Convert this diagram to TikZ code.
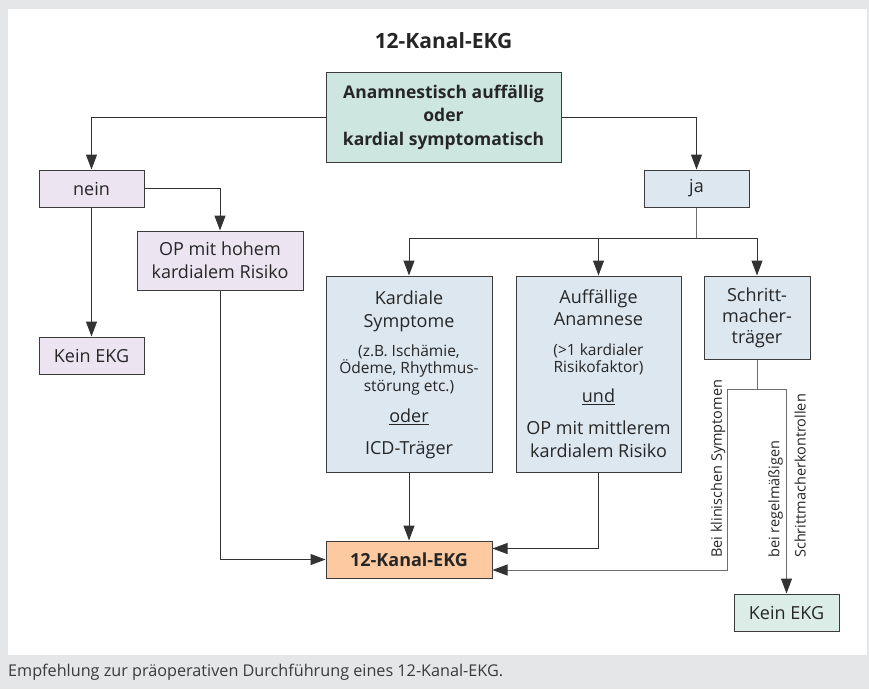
\documentclass[tikz,border=0pt]{standalone}
\usepackage{fontspec}
\setmainfont{Open Sans}
\usetikzlibrary{arrows.meta,calc}
\definecolor{bggray}{HTML}{E5E6E8}
\definecolor{topfill}{HTML}{CDE6DF}
\definecolor{lavfill}{HTML}{ECE4F0}
\definecolor{bluefill}{HTML}{DDE7F0}
\definecolor{orfill}{HTML}{FCC9A0}
\definecolor{keinfill}{HTML}{DCECE7}
\definecolor{boxline}{HTML}{3C3C3C}
\definecolor{lineclr}{HTML}{333333}
\definecolor{lightline}{HTML}{6E6E6E}
\definecolor{txt}{HTML}{262626}
\definecolor{capclr}{HTML}{3A3A3A}
\begin{document}
\begin{tikzpicture}[x=1pt,y=-1pt,
  box/.style={draw=boxline, line width=1pt, inner sep=0pt, align=center, text=txt,
    font=\fontsize{18}{23}\selectfont},
  boxtxt/.style={inner sep=0pt, align=center, text=txt, font=\fontsize{18}{23.5}\selectfont},
  conn/.style={draw=lineclr, line width=1pt},
  lconn/.style={draw=lightline, line width=1pt},
  arr/.style={conn, -{Triangle[length=15pt,width=11pt,color=lineclr]}},
  larr/.style={lconn, -{Triangle[length=15pt,width=11pt,color=lineclr]}},
  lbl/.style={inner sep=0pt, text=txt, font=\fontsize{14.5}{17}\selectfont}]
\useasboundingbox (0,0) rectangle (869,689);
\fill[bggray] (0,0) rectangle (869,689);
\fill[white] (8,9) rectangle (867,655);

% title
\node[text=txt, font=\bfseries\fontsize{21}{25}\selectfont] (title) at (443.5,41) {12-Kanal-EKG};

% boxes
\node[box, fill=topfill, minimum width=235pt, minimum height=90pt,
  font=\bfseries\fontsize{17.5}{23.5}\selectfont] (top) at (443.5,117)
  {Anamnestisch auffällig\\oder\\kardial symptomatisch};
\node[box, fill=lavfill, minimum width=105pt, minimum height=37pt] (nein) at (91.5,188.5) {nein};
\node[box, fill=bluefill, minimum width=105pt, minimum height=37pt] (ja) at (696.5,188.5) {ja};
\node[box, fill=lavfill, minimum width=166pt, minimum height=59pt] (ophoch) at (220,260.5)
  {OP mit hohem\\kardialem Risiko};
\node[box, fill=lavfill, minimum width=105pt, minimum height=37pt] (kein1) at (91.5,355.5) {Kein EKG};
\node[box, fill=bluefill, minimum width=166pt, minimum height=196pt] (kard) at (409,374) {};
\node[box, fill=bluefill, minimum width=165pt, minimum height=196pt] (auff) at (598.5,374) {};
\node[box, fill=bluefill, minimum width=106pt, minimum height=83pt,
  font=\fontsize{18}{21}\selectfont] (schritt) at (757,317.5) {Schritt-\\macher-\\träger};
\node[box, fill=orfill, minimum width=166pt, minimum height=37pt,
  font=\bfseries\fontsize{18}{23}\selectfont] (ekg) at (409,559.5) {12-Kanal-EKG};
\node[box, fill=keinfill, minimum width=105pt, minimum height=37pt] (kein2) at (786.5,612.5) {Kein EKG};

% box texts
\node[boxtxt, anchor=north] (kardt) at (409,291)
  {Kardiale\\[-0.5pt]Symptome\\[5.5pt]
   {\fontsize{15.5}{18}\selectfont (z.B. Ischämie,}\\[-6.5pt]
   {\fontsize{15.5}{18}\selectfont Ödeme, Rhythmus-}\\[-5.5pt]
   {\fontsize{15.5}{18}\selectfont störung etc.)}\\[7.5pt]
   \underline{oder}\\[8.5pt]ICD-Träger};
\node[boxtxt, anchor=north] (aufft) at (598.5,289.5)
  {Auffällige\\[-1.5pt]Anamnese\\[6.5pt]
   {\fontsize{15.5}{18}\selectfont (>1 kardialer}\\[-6.5pt]
   {\fontsize{15.5}{18}\selectfont Risikofaktor)}\\[6.5pt]
   \underline{und}\\[8.5pt]OP mit mittlerem\\[-0.5pt]kardialem Risiko};

% junction coordinates
\coordinate (jb) at (696.5,238);
\coordinate (sj) at (757,389);
\coordinate (sl) at (727,570);
\coordinate (e1) at ($(ekg.east)+(0,-11)$);
\coordinate (e2) at ($(ekg.east)+(0,10.5)$);

% connectors
\draw[arr] (top.west) -| (nein.north);
\draw[arr] (top.east) -| (ja.north);
\draw[arr] (nein.east) -| (ophoch.north);
\draw[arr] (nein.south) -- (kein1.north);
\draw[lconn] (ja.south) -- (jb);
\draw[arr] (jb) -| (kard.north);
\draw[arr] (jb) -| (auff.north);
\draw[arr] (jb) -| (schritt.north);
\draw[arr] (ophoch.south) |- (ekg.west);
\draw[arr] (kard.south) -- (ekg.north);
\draw[arr] (auff.south) |- (e1);
\draw[lconn] (schritt.south) -- (sj);
\draw[larr] (sj) -| (sl) -- (e2);
\draw[larr] (sj) -| (kein2.north);

% rotated labels
\node[lbl, rotate=90, anchor=south west] (lkl) at (725.5,558) {Bei klinischen Symptomen};
\node[lbl, rotate=90, anchor=south west] (lreg) at (783,558) {bei regelmäßigen};
\node[lbl, rotate=90, anchor=north west] (lsk) at (794.5,558) {Schrittmacherkontrollen};

% caption
\node[anchor=west, inner sep=0pt, text=capclr, font=\fontsize{16.2}{19}\selectfont] (cap) at (8,672)
  {Empfehlung zur präoperativen Durchführung eines 12-Kanal-EKG.};
\end{tikzpicture}
\end{document}
